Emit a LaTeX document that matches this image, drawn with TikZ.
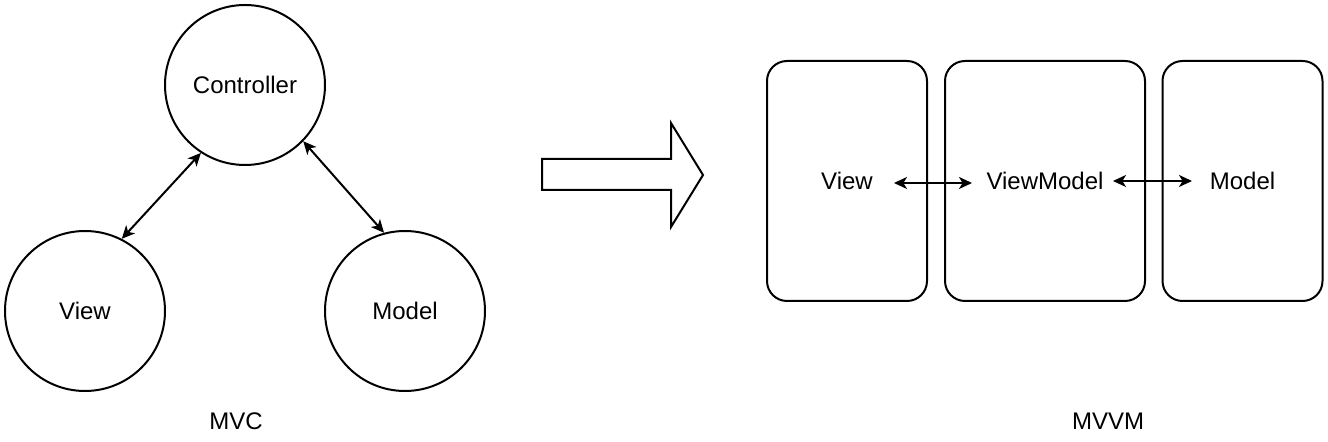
\documentclass[tikz,border=0pt]{standalone}
\usepackage{fontspec}
\setmainfont{Liberation Sans}
\usetikzlibrary{arrows.meta}

\begin{document}
\begin{tikzpicture}[
	%	style def
    x=0.5pt, y=-0.5pt,
    important line/.style={line width=1pt},
    every node/.style={color=black, font=\fontsize{12}{14}\selectfont},
    circ/.style={important line, draw, circle, minimum size=80pt, inner sep=0pt},
    panel/.style={important line, draw, rounded corners=10pt, minimum height=120pt, inner sep=0pt},
    link/.style={important line, {Stealth[length=6.5pt,width=6pt,inset=1.8pt]}-{Stealth[length=6.5pt,width=6pt,inset=1.8pt]}}
    ]
    \useasboundingbox (0,0) rectangle (1328,442);

	% MVC triangle
    \node[circ] (ctrl) at (245,85) {Controller};
    \node[circ] (view) at (85,311) {View};
    \node[circ] (model) at (405,311) {Model};
    \draw[link] (view.63) -- (ctrl.237);
    \draw[link] (ctrl.316) -- (model.105);
    \node (mvc) at (236,421) {MVC};

    % big hollow arrow
    \draw[important line] (542,159) -- (671,159) -- (671,123) -- (703,175) -- (671,227) -- (671,190) -- (542,190) -- cycle;

    % MVVM panels
    \node[panel, minimum width=80pt] (vbox) at (847,181) {View};
    \node[panel, minimum width=100pt] (vmbox) at (1045,181) {ViewModel};
    \node[panel, minimum width=80pt] (mbox) at (1242.5,181) {Model};
    \coordinate (b1) at (894,183);
    \coordinate (b2) at (972,183);
    \coordinate (b3) at (1113,181);
    \coordinate (b4) at (1192,181);
    \draw[link] (b1) -- (b2);
    \draw[link] (b3) -- (b4);
    \node (mvvm) at (1108,421) {MVVM};
\end{tikzpicture}
\end{document}
